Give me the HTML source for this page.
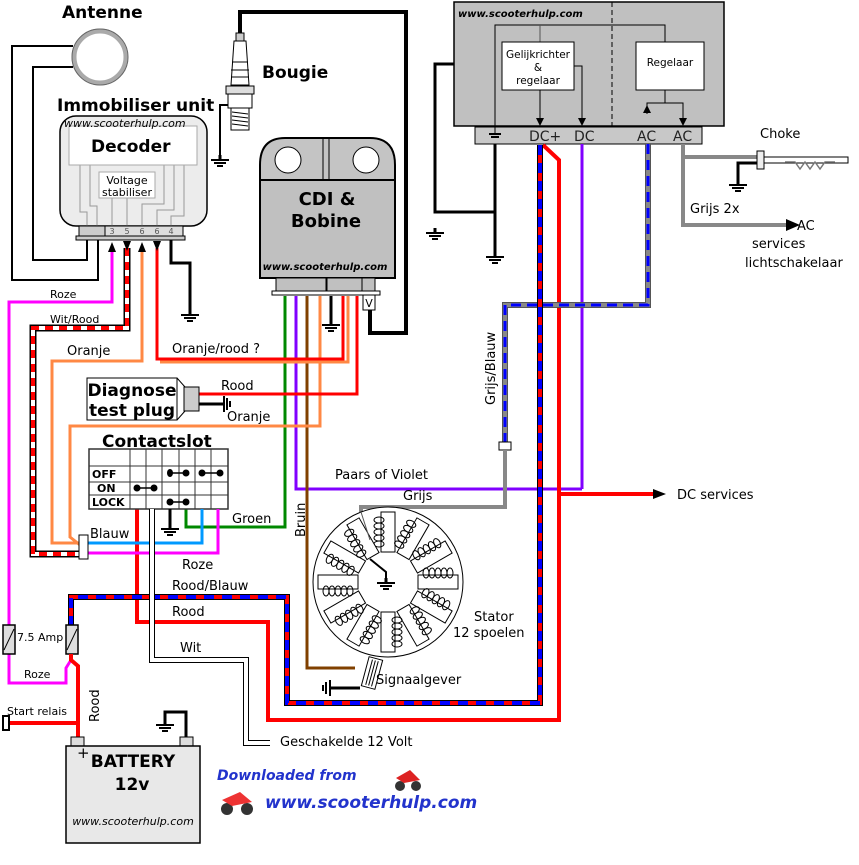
<!DOCTYPE html>
<html><head><meta charset="utf-8"><style>
body{margin:0;background:#fff}
svg{display:block}
text{font-family:"DejaVu Sans","Liberation Sans",sans-serif}
</style></head><body>
<svg width="859" height="865" viewBox="0 0 859 865" xmlns="http://www.w3.org/2000/svg">
<defs>
<g id="gnd"><line x1="0" y1="0" x2="0" y2="5" stroke="#000" stroke-width="3"/><line x1="-9" y1="5" x2="9" y2="5" stroke="#000" stroke-width="2"/><line x1="-6" y1="8" x2="6" y2="8" stroke="#000" stroke-width="2"/><line x1="-3" y1="11" x2="3" y2="11" stroke="#000" stroke-width="2"/></g>
<g id="tooth"><rect x="-7" y="-70" width="14" height="40" fill="#fff" stroke="#000" stroke-width="1"/>
<ellipse cx="-9" cy="-62" rx="5" ry="3" fill="none" stroke="#000"/><ellipse cx="-9" cy="-56" rx="5" ry="3" fill="none" stroke="#000"/><ellipse cx="-9" cy="-50" rx="5" ry="3" fill="none" stroke="#000"/><ellipse cx="-9" cy="-44" rx="5" ry="3" fill="none" stroke="#000"/><ellipse cx="-9" cy="-38" rx="5" ry="3" fill="none" stroke="#000"/></g>
</defs>

<!-- Antenna -->
<text x="62" y="18" font-size="17" font-weight="bold">Antenne</text>
<circle cx="100" cy="57" r="26" fill="#fff" stroke="#aaa" stroke-width="5"/>
<circle cx="100" cy="57" r="28" fill="none" stroke="#666" stroke-width="1"/>
<polyline points="73,46 12,46 12,280 98,280 98,238" fill="none" stroke="#000" stroke-width="2"/>
<polyline points="73,67 33,67 33,260 87,260 87,238" fill="none" stroke="#000" stroke-width="2"/>

<!-- Immobiliser -->
<text x="57" y="111" font-size="17" font-weight="bold">Immobiliser unit</text>
<rect x="60" y="116" width="147" height="110" rx="16" fill="#ececec" stroke="#000" stroke-width="1.5"/>
<g stroke="#999" fill="none" stroke-width="1">
<polyline points="80,165 80,212 87,212 87,226"/><polyline points="90,165 90,206 97,206 97,226"/><polyline points="112,198 112,226"/><polyline points="127,198 127,226"/><polyline points="164,165 164,204 142,204 142,226"/><polyline points="174,165 174,210 157,210 157,226"/><polyline points="184,165 184,216 171,216 171,226"/>
</g>
<rect x="69" y="126" width="128" height="39" fill="#fff" stroke="#aaa"/>
<text x="64" y="127" font-size="11" font-style="italic">www.scooterhulp.com</text>
<text x="91" y="152" font-size="17" font-weight="bold">Decoder</text>
<rect x="99" y="172" width="56" height="26" fill="#fff" stroke="#aaa"/>
<text x="127" y="184" font-size="11" text-anchor="middle">Voltage</text>
<text x="127" y="196" font-size="11" text-anchor="middle">stabiliser</text>
<rect x="79" y="226" width="26" height="10" fill="#ccc" stroke="#000"/>
<rect x="105" y="226" width="78" height="10" fill="#ddd" stroke="#000"/>
<rect x="76" y="236" width="109" height="4" fill="#ccc" stroke="#000"/>
<g font-size="8" fill="#555" text-anchor="middle"><text x="112" y="234">3</text><text x="127" y="234">5</text><text x="142" y="234">6</text><text x="157" y="234">6</text><text x="171" y="234">4</text></g>
<polyline points="171,240 171,263 190,263 190,313" fill="none" stroke="#000" stroke-width="3"/>
<use href="#gnd" x="190" y="310"/>

<!-- Bougie -->
<polyline points="240,35 240,12 406,12 406,333 370,333 370,305" fill="none" stroke="#000" stroke-width="4"/>
<polyline points="230,105 220,105 220,157" fill="none" stroke="#000" stroke-width="2"/>
<use href="#gnd" x="220" y="155"/>
<rect x="236" y="33" width="8" height="8" fill="#ccc" stroke="#000"/>
<path d="M234 41 L246 41 L249 85 L231 85 Z" fill="#fff" stroke="#000"/>
<line x1="232" y1="62" x2="248" y2="62" stroke="#000"/><line x1="231" y1="70" x2="249" y2="70" stroke="#000"/><line x1="231" y1="77" x2="249" y2="77" stroke="#000"/>
<rect x="226" y="86" width="28" height="8" fill="#ddd" stroke="#000"/>
<rect x="228" y="94" width="24" height="14" fill="#fff" stroke="#000"/>
<rect x="231" y="108" width="18" height="22" fill="#fff" stroke="#000"/>
<g stroke="#000"><line x1="232" y1="112" x2="248" y2="114"/><line x1="232" y1="116" x2="248" y2="118"/><line x1="232" y1="120" x2="248" y2="122"/><line x1="232" y1="124" x2="248" y2="126"/></g>
<text x="262" y="78" font-size="17" font-weight="bold">Bougie</text>

<!-- CDI -->
<path d="M260 180 L260 165 Q260 138 285 138 L370 138 Q395 138 395 165 L395 180 Z" fill="#c4c4c4" stroke="#000" stroke-width="2"/>
<line x1="323" y1="138" x2="323" y2="180" stroke="#000"/><line x1="329" y1="138" x2="329" y2="180" stroke="#000"/>
<circle cx="288" cy="160" r="13" fill="#fff" stroke="#000"/>
<circle cx="366" cy="160" r="13" fill="#fff" stroke="#000"/>
<rect x="260" y="180" width="135" height="98" fill="#c0c0c0" stroke="#000" stroke-width="2"/>
<text x="327" y="205" font-size="18" font-weight="bold" text-anchor="middle">CDI &amp;</text>
<text x="326" y="227" font-size="18" font-weight="bold" text-anchor="middle">Bobine</text>
<text x="325" y="270" font-size="10" font-style="italic" font-weight="bold" text-anchor="middle">www.scooterhulp.com</text>
<rect x="276" y="278" width="50" height="14" fill="#c0c0c0" stroke="#000"/>
<rect x="327" y="278" width="35" height="14" fill="#c0c0c0" stroke="#000"/>
<rect x="362" y="278" width="13" height="14" fill="#c0c0c0" stroke="#000"/>
<rect x="272" y="291" width="108" height="4" fill="#fff" stroke="#000"/>
<rect x="363" y="295" width="12" height="15" fill="#fff" stroke="#000"/>
<text x="369" y="307" font-size="11" text-anchor="middle">V</text>
<polyline points="331,296 331,322" stroke="#000" stroke-width="3" fill="none"/>
<use href="#gnd" x="331" y="320"/>

<!-- Regulator -->
<rect x="454" y="2" width="270" height="124" fill="#c0c0c0" stroke="#000" stroke-width="1.5"/>
<line x1="612" y1="2" x2="612" y2="144" stroke="#000" stroke-dasharray="5,3"/>
<text x="458" y="17" font-size="10" font-style="italic" font-weight="bold">www.scooterhulp.com</text>
<rect x="475" y="127" width="227" height="17" fill="#c8c8c8" stroke="#000"/>
<polyline points="495,133 495,25 665,25 665,42" fill="none" stroke="#000"/>
<line x1="540" y1="25" x2="540" y2="42" stroke="#555"/>
<rect x="502" y="42" width="72" height="48" fill="#fff" stroke="#000"/>
<text x="538" y="58" font-size="10.5" text-anchor="middle">Gelijkrichter</text>
<text x="538" y="71" font-size="10.5" text-anchor="middle">&amp;</text>
<text x="538" y="84" font-size="10.5" text-anchor="middle">regelaar</text>
<rect x="636" y="42" width="68" height="48" fill="#fff" stroke="#000"/>
<text x="670" y="66" font-size="10.5" text-anchor="middle">Regelaar</text>
<line x1="540" y1="90" x2="540" y2="118" stroke="#000"/><path d="M536 118 L544 118 L540 126 Z"/>
<polyline points="574,66 582,66 582,118" fill="none" stroke="#000"/><path d="M578 118 L586 118 L582 126 Z"/>
<polyline points="665,90 665,103 647,103 647,114" fill="none" stroke="#000"/><polyline points="665,103 683,103 683,118" fill="none" stroke="#000"/>
<path d="M643 113 L651 113 L647 105 Z"/><path d="M679 118 L687 118 L683 126 Z"/>
<g font-size="14" fill="#222"><text x="529" y="141">DC+</text><text x="574" y="141">DC</text><text x="637" y="141">AC</text><text x="673" y="141">AC</text></g>
<line x1="489" y1="134" x2="501" y2="134" stroke="#000" stroke-width="2"/><line x1="491" y1="137" x2="499" y2="137" stroke="#000" stroke-width="2"/>
<line x1="495" y1="144" x2="495" y2="254" stroke="#000" stroke-width="3"/>
<use href="#gnd" x="495" y="252"/>
<polyline points="495,212 435,212 435,64 454,64" fill="none" stroke="#000" stroke-width="3"/>
<use href="#gnd" x="435" y="228"/>

<!-- Choke / AC -->
<polyline points="683,144 683,225 788,225" fill="none" stroke="#888" stroke-width="4"/>
<path d="M786 219 L800 225 L786 231 Z"/>
<line x1="683" y1="157" x2="757" y2="157" stroke="#888" stroke-width="4"/>
<rect x="757" y="151" width="7" height="18" fill="#eee" stroke="#000"/>
<rect x="764" y="157" width="84" height="6" fill="#fff" stroke="#000"/>
<polyline points="785,162 795,162 800,169 805,162 810,169 815,162 820,169 825,162 835,162" fill="none" stroke="#777" stroke-width="1.5"/>
<polyline points="757,163 738,163 738,182" fill="none" stroke="#000" stroke-width="3"/>
<use href="#gnd" x="738" y="180"/>
<text x="760" y="138" font-size="13">Choke</text>
<text x="690" y="213" font-size="13">Grijs 2x</text>
<text x="797" y="230" font-size="13">AC</text>
<text x="752" y="248" font-size="13">services</text>
<text x="745" y="267" font-size="13">lichtschakelaar</text>

<!-- long wires from regulator -->
<line x1="582" y1="144" x2="582" y2="489" stroke="#8000ff" stroke-width="3"/>
<polyline points="296,296 296,489 582,489" fill="none" stroke="#8000ff" stroke-width="3"/>
<polyline points="543,145 559,160 559,720 268,720 268,622 137,622 137,509" fill="none" stroke="#f00" stroke-width="4"/>
<line x1="559" y1="494" x2="655" y2="494" stroke="#f00" stroke-width="4"/>
<path d="M653 489 L666 494 L653 499 Z"/>
<text x="677" y="499" font-size="13">DC services</text>
<!-- grijs/blauw -->
<polyline points="648,144 648,305 505,305 505,445" fill="none" stroke="#555" stroke-width="6"/>
<polyline points="648,144 648,305 505,305 505,445" fill="none" stroke="#888" stroke-width="4"/>
<polyline points="648,144 648,305 505,305 505,445" fill="none" stroke="#00f" stroke-width="3" stroke-dasharray="10,6"/>
<rect x="499" y="442" width="12" height="8" fill="#fff" stroke="#000"/>
<polyline points="505,450 505,507 361,507 361,512" fill="none" stroke="#888" stroke-width="4"/>
<text transform="translate(495,405) rotate(-90)" font-size="13">Grijs/Blauw</text>
<!-- rood/blauw -->
<polyline points="540,145 540,703 287,703 287,597 71,597 71,625" fill="none" stroke="#000" stroke-width="6"/>
<polyline points="540,145 540,703 287,703 287,597 71,597 71,625" fill="none" stroke="#f00" stroke-width="4"/>
<polyline points="540,145 540,703 287,703 287,597 71,597 71,625" fill="none" stroke="#00f" stroke-width="4" stroke-dasharray="10,8"/>
<text x="172" y="590" font-size="13">Rood/Blauw</text>
<text x="172" y="616" font-size="13">Rood</text>

<!-- CDI wires -->
<polyline points="285,296 285,527 186,527 186,509" fill="none" stroke="#080" stroke-width="3"/>
<polyline points="307,296 307,668 355,668" fill="none" stroke="#804000" stroke-width="3"/>
<polyline points="320,296 320,426 70,426 70,537 80,545" fill="none" stroke="#f84" stroke-width="3"/>
<polyline points="348,296 348,362 160,362" fill="none" stroke="#f84" stroke-width="3"/>
<polyline points="343,296 343,359 157,359 157,248" fill="none" stroke="#f00" stroke-width="3"/>
<polyline points="357,296 357,394 198,394" fill="none" stroke="#f00" stroke-width="3"/>
<polyline points="142,248 142,361 52,361 52,543 80,543" fill="none" stroke="#f84" stroke-width="3"/>
<polyline points="112,248 112,302 9,302 9,625" fill="none" stroke="#f0f" stroke-width="3"/>
<polyline points="127,248 127,328 33,328 33,554 80,554" fill="none" stroke="#000" stroke-width="7"/>
<polyline points="127,248 127,328 33,328 33,554 80,554" fill="none" stroke="#fff" stroke-width="4"/>
<polyline points="127,248 127,328 33,328 33,554 80,554" fill="none" stroke="#f00" stroke-width="4" stroke-dasharray="8,6"/>
<path d="M108 252 L116 252 L112 242 Z"/><path d="M123 241 L131 241 L127 251 Z"/><path d="M138 252 L146 252 L142 242 Z"/><path d="M153 241 L161 241 L157 251 Z"/>
<text x="50" y="298" font-size="11">Roze</text>
<text x="50" y="323" font-size="11">Wit/Rood</text>
<text x="67" y="355" font-size="13">Oranje</text>
<text x="172" y="353" font-size="13">Oranje/rood ?</text>
<text x="221" y="390" font-size="13">Rood</text>
<text x="227" y="421" font-size="13">Oranje</text>

<!-- Diagnose -->
<rect x="87" y="378" width="90" height="42" fill="#fff" stroke="#000"/>
<text x="132" y="396" font-size="17" font-weight="bold" text-anchor="middle">Diagnose</text>
<text x="132" y="416" font-size="17" font-weight="bold" text-anchor="middle">test plug</text>
<line x1="177" y1="378" x2="185" y2="387" stroke="#000"/><line x1="177" y1="420" x2="185" y2="411" stroke="#000"/>
<rect x="184" y="387" width="15" height="24" fill="#ccc" stroke="#000"/>
<line x1="199" y1="404" x2="224" y2="404" stroke="#000" stroke-width="3"/>
<line x1="224" y1="396" x2="224" y2="412" stroke="#000" stroke-width="2"/><line x1="227" y1="398" x2="227" y2="410" stroke="#000" stroke-width="2"/><line x1="230" y1="401" x2="230" y2="407" stroke="#000" stroke-width="2"/>

<!-- Contactslot -->
<text x="102" y="447" font-size="17" font-weight="bold">Contactslot</text>
<rect x="89" y="449" width="139" height="60" fill="#fff" stroke="#333" stroke-width="1.5"/>
<g stroke="#333"><line x1="89" y1="466" x2="228" y2="466"/><line x1="89" y1="482" x2="228" y2="482"/><line x1="89" y1="495" x2="228" y2="495"/>
<line x1="130" y1="449" x2="130" y2="509"/><line x1="146" y1="449" x2="146" y2="509"/><line x1="162" y1="449" x2="162" y2="509"/><line x1="179" y1="449" x2="179" y2="509"/><line x1="195" y1="449" x2="195" y2="509"/><line x1="211" y1="449" x2="211" y2="509"/></g>
<g font-size="11" font-weight="bold"><text x="92" y="478">OFF</text><text x="97" y="492">ON</text><text x="92" y="506">LOCK</text></g>
<g stroke="#000" stroke-width="1.5"><line x1="170" y1="473" x2="186" y2="473"/><line x1="202" y1="473" x2="220" y2="473"/><line x1="137" y1="488" x2="154" y2="488"/><line x1="170" y1="502" x2="186" y2="502"/></g>
<g><ellipse cx="170" cy="473" rx="3" ry="4"/><circle cx="186" cy="473" r="3.5"/><circle cx="202" cy="473" r="3.5"/><circle cx="220" cy="473" r="3.5"/><circle cx="137" cy="488" r="3.5"/><circle cx="154" cy="488" r="3.5"/><circle cx="170" cy="502" r="3.5"/><circle cx="186" cy="502" r="3.5"/></g>
<line x1="170" y1="509" x2="170" y2="526" stroke="#000" stroke-width="3"/><use href="#gnd" x="170" y="524"/>
<polyline points="202,509 202,543 88,543" fill="none" stroke="#09f" stroke-width="3"/>
<polyline points="218,509 218,553 88,553" fill="none" stroke="#f0f" stroke-width="3"/>
<polyline points="152,509 152,660 246,660 246,743 270,743" fill="none" stroke="#000" stroke-width="6"/>
<polyline points="152,509 152,660 246,660 246,743 270,743" fill="none" stroke="#fff" stroke-width="4"/>
<rect x="79" y="535" width="9" height="24" fill="#fff" stroke="#000"/>
<text x="90" y="538" font-size="13">Blauw</text>
<text x="232" y="523" font-size="13">Groen</text>
<text x="182" y="569" font-size="13">Roze</text>
<text x="180" y="652" font-size="13">Wit</text>
<text x="280" y="746" font-size="13">Geschakelde 12 Volt</text>
<text x="335" y="479" font-size="13">Paars of Violet</text>
<text x="403" y="500" font-size="13">Grijs</text>
<text transform="translate(305,537) rotate(-90)" font-size="13">Bruin</text>

<!-- Stator -->
<circle cx="388" cy="582" r="75" fill="#fff" stroke="#000"/>
<g transform="translate(388,582)">
<use href="#tooth" transform="rotate(0)"/><use href="#tooth" transform="rotate(30)"/><use href="#tooth" transform="rotate(60)"/><use href="#tooth" transform="rotate(90)"/><use href="#tooth" transform="rotate(120)"/><use href="#tooth" transform="rotate(150)"/><use href="#tooth" transform="rotate(180)"/><use href="#tooth" transform="rotate(210)"/><use href="#tooth" transform="rotate(240)"/><use href="#tooth" transform="rotate(270)"/><use href="#tooth" transform="rotate(300)"/><use href="#tooth" transform="rotate(330)"/>
</g>
<line x1="361" y1="512" x2="370" y2="540" stroke="#555"/>
<polyline points="370,559 386,572 386,582" fill="none" stroke="#000" stroke-width="2"/><use href="#gnd" x="386" y="578"/>
<text x="474" y="621" font-size="13">Stator</text>
<text x="453" y="637" font-size="13">12 spoelen</text>
<rect x="365" y="658" width="14" height="30" fill="#fff" stroke="#000" transform="rotate(15 372 673)"/>
<g stroke="#000" transform="rotate(15 372 673)"><line x1="369" y1="660" x2="369" y2="686"/><line x1="372" y1="660" x2="372" y2="686"/><line x1="375" y1="660" x2="375" y2="686"/></g>
<line x1="330" y1="688" x2="360" y2="688" stroke="#000" stroke-width="3"/>
<line x1="330" y1="680" x2="330" y2="696" stroke="#000" stroke-width="2"/><line x1="326" y1="682" x2="326" y2="694" stroke="#000" stroke-width="2"/><line x1="323" y1="685" x2="323" y2="691" stroke="#000" stroke-width="2"/>
<text x="376" y="684" font-size="13">Signaalgever</text>

<!-- fuses / battery -->
<polyline points="9,653 9,683 66,683 66,668 71,660" fill="none" stroke="#f0f" stroke-width="3"/>
<rect x="3" y="625" width="12" height="29" fill="#ddd" stroke="#000" stroke-width="1.5"/><line x1="4" y1="650" x2="14" y2="629" stroke="#000"/>
<rect x="66" y="625" width="12" height="29" fill="#ddd" stroke="#000" stroke-width="1.5"/><line x1="67" y1="650" x2="77" y2="629" stroke="#000"/>
<polyline points="71,654 71,660 78,666 78,738" fill="none" stroke="#f00" stroke-width="4"/>
<line x1="9" y1="723" x2="78" y2="723" stroke="#f00" stroke-width="4"/>
<rect x="3" y="716" width="6" height="14" fill="#fff" stroke="#000" stroke-width="2"/>
<text x="17" y="641" font-size="11">7.5 Amp</text>
<text x="24" y="678" font-size="11">Roze</text>
<text x="7" y="715" font-size="11">Start relais</text>
<text transform="translate(99,722) rotate(-90)" font-size="13">Rood</text>
<rect x="71" y="737" width="13" height="9" fill="#ddd" stroke="#000"/>
<rect x="180" y="737" width="13" height="9" fill="#ddd" stroke="#000"/>
<polyline points="186,737 186,712 165,712 165,724" fill="none" stroke="#000" stroke-width="3"/><use href="#gnd" x="165" y="720"/>
<rect x="66" y="746" width="134" height="97" fill="#e8e8e8" stroke="#000" stroke-width="1.5"/>
<text x="77" y="758" font-size="15">+</text>
<text x="133" y="767" font-size="17" font-weight="bold" text-anchor="middle">BATTERY</text>
<text x="132" y="790" font-size="17" font-weight="bold" text-anchor="middle">12v</text>
<text x="133" y="825" font-size="11" font-style="italic" text-anchor="middle">www.scooterhulp.com</text>

<!-- footer -->
<text x="217" y="780" font-size="14" font-style="italic" font-weight="bold" fill="#23c" font-family="Liberation Serif">Downloaded from</text>
<text x="265" y="808" font-size="17" font-style="italic" font-weight="bold" fill="#23c" font-family="Liberation Serif">www.scooterhulp.com</text>
<g><ellipse cx="227" cy="809" rx="6" ry="6" fill="#333"/><ellipse cx="247" cy="809" rx="6" ry="6" fill="#333"/><path d="M222 800 L240 792 L252 802 L232 806 Z" fill="#e33"/></g>
<g><ellipse cx="400" cy="786" rx="5" ry="5" fill="#333"/><ellipse cx="416" cy="786" rx="5" ry="5" fill="#333"/><path d="M396 778 L410 770 L420 780 L404 783 Z" fill="#d22"/></g>
</svg>
</body></html>
